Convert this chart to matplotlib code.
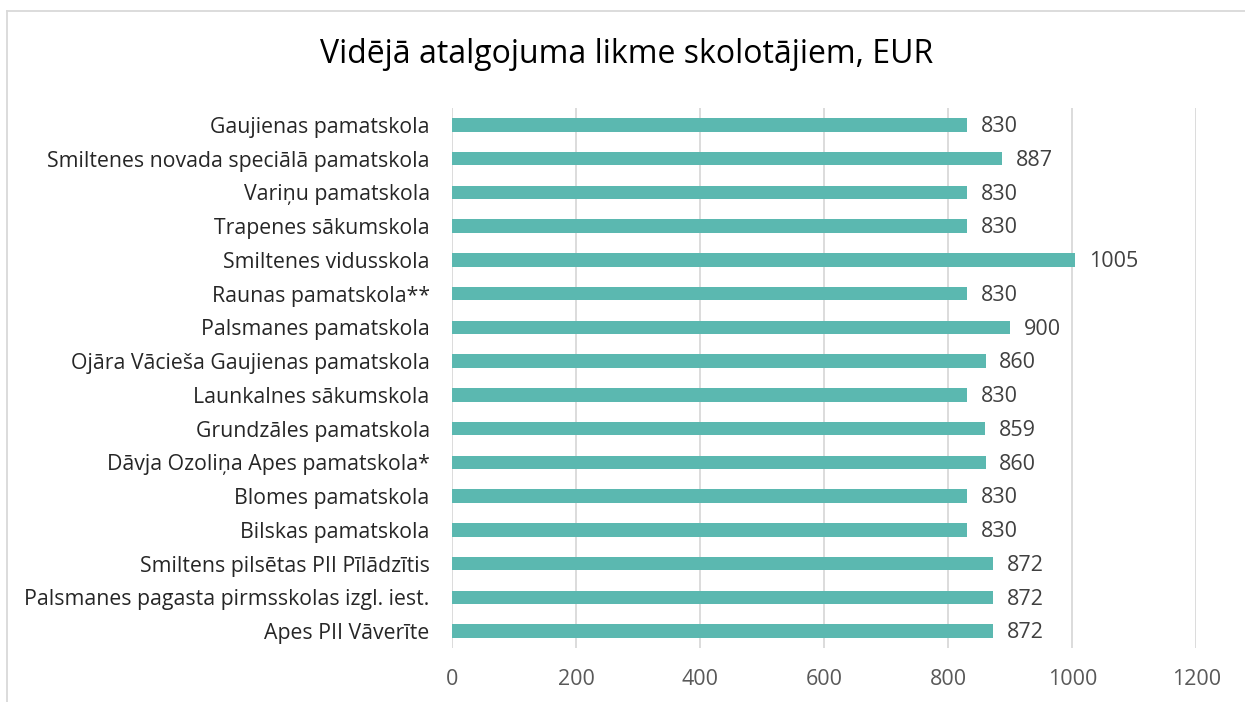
import matplotlib.pyplot as plt
from matplotlib.lines import Line2D

plt.rcParams['font.family'] = ['Open Sans', 'DejaVu Sans']

# Data (top to bottom as shown)
schools = [
    "Gaujienas pamatskola",
    "Smiltenes novada speciālā pamatskola",
    "Variņu pamatskola",
    "Trapenes sākumskola",
    "Smiltenes vidusskola",
    "Raunas pamatskola**",
    "Palsmanes pamatskola",
    "Ojāra Vācieša Gaujienas pamatskola",
    "Launkalnes sākumskola",
    "Grundzāles pamatskola",
    "Dāvja Ozoliņa Apes pamatskola*",
    "Blomes pamatskola",
    "Bilskas pamatskola",
    "Smiltens pilsētas PII Pīlādzītis",
    "Palsmanes pagasta pirmsskolas izgl. iest.",
    "Apes PII Vāverīte",
]
salary = [830, 887, 830, 830, 1005, 830, 900, 860, 830, 859, 860, 830, 830, 872, 872, 872]
xticks = [0, 200, 400, 600, 800, 1000, 1200]

bar_color = "#5BB8B0"

fig = plt.figure(figsize=(12.45, 7.02), dpi=100)
ax = fig.add_axes([0.363, 0.077, 0.598, 0.769])

ypos = list(range(len(schools)))
ax.barh(ypos, salary, height=0.4, color=bar_color, zorder=3)
ax.set_yticks(ypos)
ax.set_yticklabels(schools, fontsize=15.3, color="#262626")
ax.set_ylim(len(schools) - 0.5, -0.5)

ax.set_xlim(0, 1200)
ax.set_xticks(xticks)
ax.set_xticklabels([str(t) for t in xticks], fontsize=15.5, color="#595959")
ax.tick_params(axis='both', length=0)
ax.tick_params(axis='x', pad=15)
ax.tick_params(axis='y', pad=16)
ax.grid(axis='x', color="#D9D9D9", linewidth=1.3, zorder=0)
for s in ax.spines.values():
    s.set_visible(False)

for y, v in zip(ypos, salary):
    ax.text(v + 22, y + 0.05, str(v), va='center', ha='left', fontsize=15.5, color="#404040")

fig.text(0.503, 0.922, "Vidējā atalgojuma likme skolotājiem, EUR", ha='center', va='center',
         fontsize=23, color="#000000")

# chart frame (top and left edges visible)
fig.add_artist(Line2D([7 / 1245, 7 / 1245], [0, 1 - 11 / 702], transform=fig.transFigure,
                      color="#D9D9D9", linewidth=1.3))
fig.add_artist(Line2D([7 / 1245, 1], [1 - 11 / 702, 1 - 11 / 702], transform=fig.transFigure,
                      color="#D9D9D9", linewidth=1.3))

fig.savefig("out.png", dpi=100)
